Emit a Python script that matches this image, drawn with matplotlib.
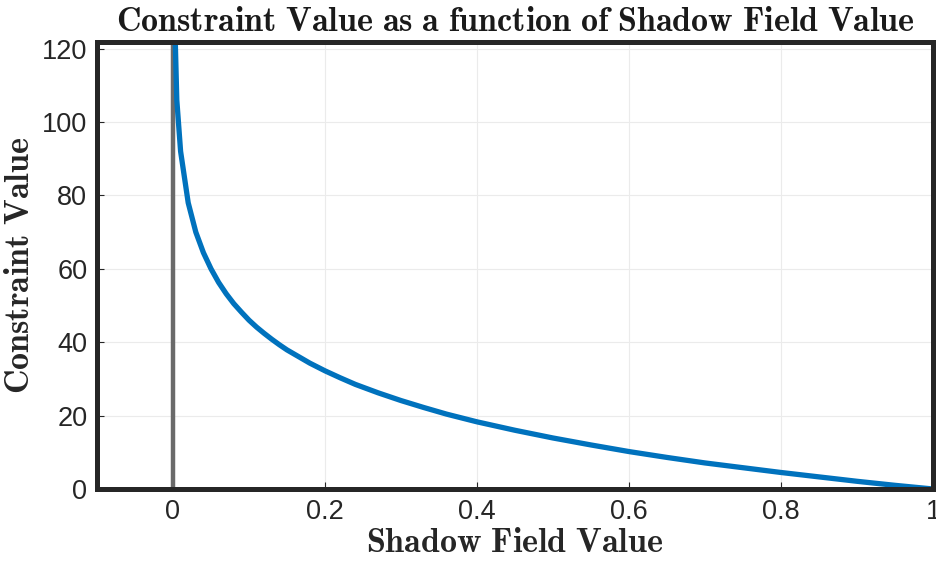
import matplotlib
matplotlib.use("Agg")
import matplotlib.pyplot as plt

# shadow field value vs constraint value
shadow = [0.001, 0.005, 0.01, 0.02, 0.03, 0.04, 0.05, 0.06, 0.07, 0.08, 0.09, 0.10,
          0.11, 0.12, 0.13, 0.14, 0.15, 0.16, 0.18, 0.20, 0.22, 0.24, 0.27, 0.30,
          0.33, 0.36, 0.40, 0.45, 0.50, 0.55, 0.60, 0.65, 0.70,
          0.75, 0.80, 0.85, 0.90, 0.95, 1.00]
constraint = [138, 106, 92, 78, 70, 64.4, 60, 56.3, 53.2, 50.5, 48.2, 46,
              44.1, 42.4, 40.8, 39.3, 37.9, 36.7, 34.3, 32.2, 30.3, 28.5, 26.2, 24.1,
              22.2, 20.4, 18.3, 16.0, 13.9, 12.0, 10.2, 8.6, 7.1,
              5.8, 4.5, 3.3, 2.1, 1.0, 0.0]

xticks = [0, 0.2, 0.4, 0.6, 0.8, 1]
xticklabels = ["0", "0.2", "0.4", "0.6", "0.8", "1"]
yticks = [0, 20, 40, 60, 80, 100, 120]

plt.rcParams['mathtext.fontset'] = 'cm'
plt.rcParams['font.family'] = ['Liberation Sans', 'DejaVu Sans']

fig = plt.figure(figsize=(9.36, 5.63), dpi=100)
ax = fig.add_axes([97 / 936, 1 - 489 / 563, (933 - 97) / 936, (489 - 42) / 563])

ax.axvline(0, color='#6a6a6a', lw=3.2, zorder=2)
ax.plot(shadow, constraint, color='#0072BD', lw=3.8, zorder=3)

ax.set_xlim(-0.1, 1.0)
ax.set_ylim(0, 121.8)
ax.set_xticks(xticks)
ax.set_xticklabels(xticklabels)
ax.set_yticks(yticks)

ax.grid(True, color='#ebebeb', lw=0.8)
ax.set_axisbelow(True)
ax.tick_params(direction='in', length=5, width=0.8, color='#262626',
               labelsize=19.5, labelcolor='#262626', pad=7)
for s in ax.spines.values():
    s.set_linewidth(3.6)
    s.set_color('#262626')
    s.set_zorder(4)

ax.set_title(r'$\mathbf{Constraint\ Value\ as\ a\ function\ of\ Shadow\ Field\ Value}$',
             fontsize=24.5, color='#1a1a1a', pad=8)
ax.set_xlabel(r'$\mathbf{Shadow\ Field\ Value}$', fontsize=24.5, color='#262626', labelpad=2)
ax.set_ylabel(r'$\mathbf{Constraint\ Value}$', fontsize=24.5, color='#262626', labelpad=4)

fig.savefig('out.png', dpi=100)
